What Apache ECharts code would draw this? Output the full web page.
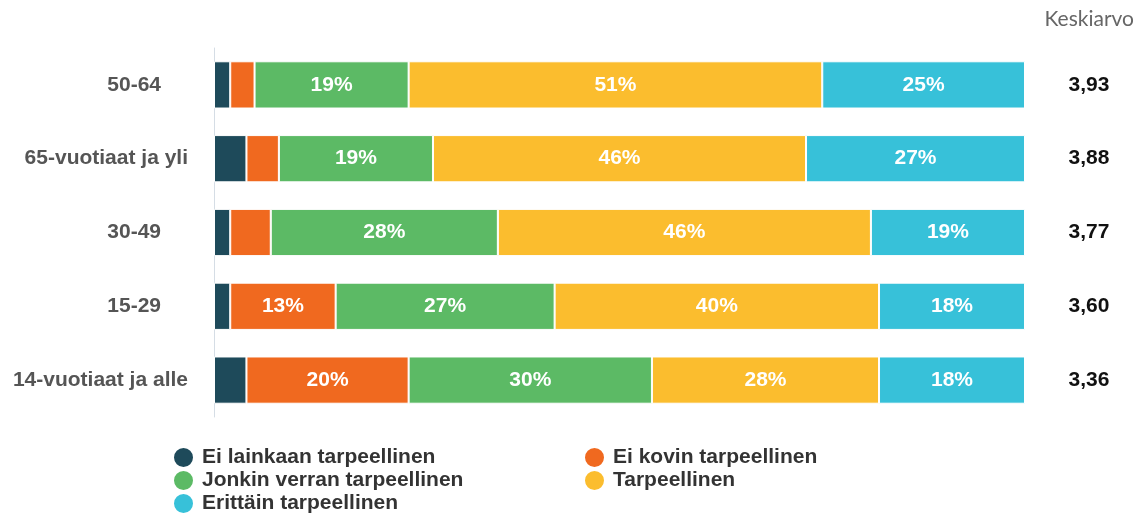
<!DOCTYPE html>
<html><head><meta charset="utf-8">
<script src="https://cdn.jsdelivr.net/npm/echarts@6/dist/echarts.min.js"></script>
<style>html,body{margin:0;padding:0;background:#fff}#c{width:1144px;height:519px}</style>
</head><body><div id="c"></div>
<script>
const categories = ['50-64', '65-vuotiaat ja yli', '30-49', '15-29', '14-vuotiaat ja alle'];
const means = ['3,93', '3,88', '3,77', '3,60', '3,36'];
const seriesNames = ['Ei lainkaan tarpeellinen', 'Ei kovin tarpeellinen', 'Jonkin verran tarpeellinen', 'Tarpeellinen', 'Erittäin tarpeellinen'];
const eiLainkaan = [2, 4, 2, 2, 4];
const eiKovin = [3, 4, 5, 13, 20];
const jonkinVerran = [19, 19, 28, 27, 30];
const tarpeellinen = [51, 46, 46, 40, 28];
const erittain = [25, 27, 19, 18, 18];
const colors = ['#1e4a5a', '#f0691f', '#5cba65', '#fbbd2e', '#37c1d9'];
const values = [eiLainkaan, eiKovin, jonkinVerran, tarpeellinen, erittain];

const FONT = 'Liberation Sans, Arial, sans-serif';
const chart = echarts.init(document.getElementById('c'));
const legendPos = [[172, 446], [583, 446], [172, 469], [583, 469], [172, 492]];
chart.setOption({
  animation: false,
  title: { text: 'Keskiarvo', right: 10, top: 9, padding: 0, textStyle: { fontFamily: 'Lato', fontSize: 21, fontWeight: 'normal', color: '#666' } },
  grid: { left: 214, right: 119, top: 48, bottom: 102 },
  xAxis: { type: 'value', min: 0, max: 100, show: false },
  yAxis: [
    { type: 'category', data: categories, inverse: true,
      axisLine: { show: true, lineStyle: { color: '#d5dde5', width: 1 } }, axisTick: { show: false },
      axisLabel: { margin: 26, fontFamily: FONT, fontSize: 21, fontWeight: 'bold', color: '#555',
        formatter: v => v.length <= 5 ? '{s|' + v + '}' : v,
        rich: { s: { fontFamily: FONT, fontSize: 21, fontWeight: 'bold', color: '#555', padding: [0, 27, 0, 0] } } } },
    { type: 'category', data: means, inverse: true, position: 'right',
      axisLine: { show: false }, axisTick: { show: false },
      axisLabel: { margin: 64, align: 'center', fontFamily: FONT, fontSize: 21, fontWeight: 'bold', color: '#111' } }
  ],
  legend: legendPos.map((p, i) => ({
    data: [seriesNames[i]], left: p[0], top: p[1], padding: 0, icon: 'circle', itemWidth: 21, itemHeight: 21, itemGap: 6,
    textStyle: { fontFamily: FONT, fontSize: 21, fontWeight: 'bold', color: '#333', padding: [0, 0, 0, 3] }
  })),
  series: seriesNames.map((name, i) => ({
    name, type: 'bar', stack: 'total', barCategoryGap: '36%',
    data: values[i],
    itemStyle: { color: colors[i], borderColor: '#fff', borderWidth: 1 },
    label: { show: true, position: 'inside', color: '#fff', fontFamily: FONT, fontSize: 21, fontWeight: 'bold',
      formatter: p => p.value >= 10 ? p.value + '%' : '' }
  }))
});
</script></body></html>
